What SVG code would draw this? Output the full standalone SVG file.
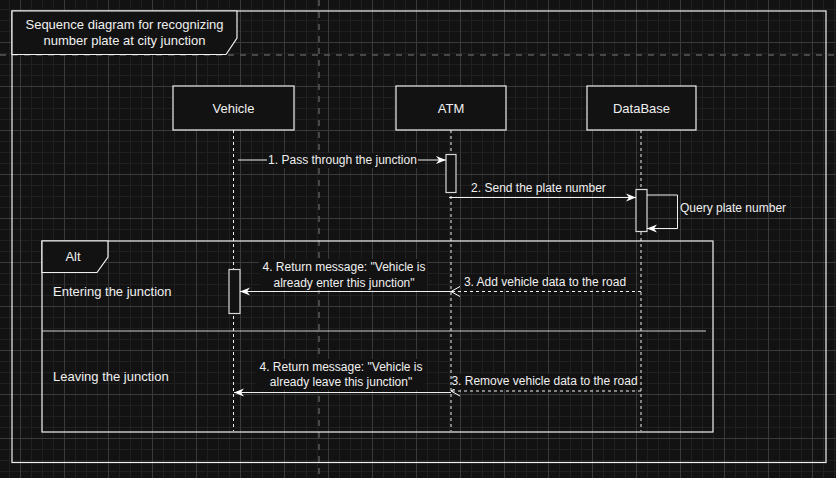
<svg xmlns="http://www.w3.org/2000/svg" width="836" height="478" viewBox="0 0 836 478">
<defs>
<pattern id="minor" width="11" height="11" patternUnits="userSpaceOnUse" x="9" y="9"><path d="M0,0.5 H11 M0.5,0 V11" stroke="#202020" stroke-width="1" fill="none"/></pattern>
<pattern id="major" width="44" height="44" patternUnits="userSpaceOnUse" x="20" y="-2"><path d="M0,0.5 H44 M0.5,0 V44" stroke="#3a3a3a" stroke-width="1" fill="none"/></pattern>
<marker id="classic" markerUnits="userSpaceOnUse" markerWidth="11" markerHeight="10" refX="10" refY="5" orient="auto"><path d="M0,1 L10,5 L0,9 L3,5 Z" fill="#ffffff"/></marker>
<marker id="open" markerUnits="userSpaceOnUse" markerWidth="11" markerHeight="12" refX="10" refY="6" orient="auto"><path d="M1,1 L10,6 L1,11" fill="none" stroke="#ffffff" stroke-width="1"/></marker>
</defs>
<style>
text{font-family:"Liberation Sans",Arial,sans-serif;font-size:12px;fill:#f0f0f0}
.big{font-size:13px}
.c{text-anchor:middle}
.box{fill:#121212;stroke:#f0f0f0;stroke-width:1.2}
.act{fill:#121212;stroke:#d8d8d8;stroke-width:1.2}
.life{stroke:#f0f0f0;stroke-width:1;stroke-dasharray:3 3;fill:none}
.msg{stroke:#f0f0f0;stroke-width:1;fill:none}
.ret{stroke:#f0f0f0;stroke-width:1;stroke-dasharray:3 3;fill:none}
.lbg{fill:#121212}
.frame{fill:none;stroke:#f0f0f0;stroke-width:1.2}
.pg{stroke:#5a5a5a;stroke-width:1.5;stroke-dasharray:6 6;fill:none}
</style>
<rect width="836" height="478" fill="#121212"/>
<rect width="836" height="478" fill="url(#minor)"/>
<rect width="836" height="478" fill="url(#major)"/>
<path class="pg" d="M0,55 H836 M319,0 V478"/>

<g id="frame">
<rect class="frame" x="12" y="11" width="814" height="451.5"/>
<path class="box" d="M12,11 H237 V38 L226,54.5 H12 Z"/>
<text class="c big" x="124.5" y="29">Sequence diagram for recognizing</text>
<text class="c big" x="124.5" y="45">number plate at city junction</text>
</g>

<g id="alt">
<rect class="frame" x="42" y="241" width="671" height="191"/>
<path class="box" d="M42,241 H108 V257 L97,272.5 H42 Z"/>
<text class="c big" x="73" y="260.5">Alt</text>
<line x1="42" y1="331" x2="706" y2="331" stroke="#cfcfcf" stroke-width="1.2"/>
<text class="big" x="53" y="296">Entering the junction</text>
<text class="big" x="53" y="380.5">Leaving the junction</text>
</g>

<g id="lifelines">
<path class="life" d="M233.5,130 V431 M451,130 V431 M641,130 V431"/>
</g>

<g id="vehicle">
<rect class="box" x="173" y="86" width="121" height="44"/>
<text class="c big" x="233.5" y="112.5">Vehicle</text>
</g>
<g id="atm">
<rect class="box" x="396" y="86" width="110" height="44"/>
<text class="c big" x="451" y="112.5">ATM</text>
</g>
<g id="database">
<rect class="box" x="587" y="86" width="109" height="44"/>
<text class="c big" x="641.5" y="112.5">DataBase</text>
</g>

<g id="activations">
<rect class="act" x="446" y="154.5" width="10" height="38"/>
<rect class="act" x="636" y="189.5" width="11" height="42"/>
<rect class="act" x="229" y="269.5" width="11" height="44"/>
</g>

<g id="connectors">
<line class="msg" x1="238" y1="160" x2="446" y2="160" marker-end="url(#classic)"/>
<rect class="lbg" x="267" y="153" width="151" height="15"/>
<text class="c" x="342.5" y="164">1. Pass through the junction</text>

<line class="msg" x1="449" y1="197.5" x2="636" y2="197.5" marker-end="url(#classic)"/>
<text class="c" x="538.5" y="192">2. Send the plate number</text>

<path class="msg" d="M647,195 H677.5 V228.5 H647" marker-end="url(#classic)"/>
<text x="680" y="212">Query plate number</text>

<line class="ret" x1="641" y1="291.5" x2="451" y2="291.5" marker-end="url(#open)"/>
<rect class="lbg" x="462" y="275" width="166" height="14"/>
<text class="c" x="545" y="286">3. Add vehicle data to the road</text>

<line class="msg" x1="451" y1="291.5" x2="240" y2="291.5" marker-end="url(#classic)"/>
<rect class="lbg" x="259" y="259" width="168" height="31"/>
<text class="c" x="344" y="271">4. Return message: "Vehicle is</text>
<text class="c" x="344" y="287">already enter this junction"</text>

<line class="ret" x1="641" y1="391" x2="451" y2="391" marker-end="url(#open)"/>
<rect class="lbg" x="452" y="374" width="187" height="15"/>
<text class="c" x="544.5" y="385">3. Remove vehicle data to the road</text>

<line class="msg" x1="451" y1="392.5" x2="234" y2="392.5" marker-end="url(#classic)"/>
<rect class="lbg" x="256" y="359" width="169" height="31"/>
<text class="c" x="341" y="371">4. Return message: "Vehicle is</text>
<text class="c" x="341" y="386">already leave this junction"</text>
</g>
</svg>
